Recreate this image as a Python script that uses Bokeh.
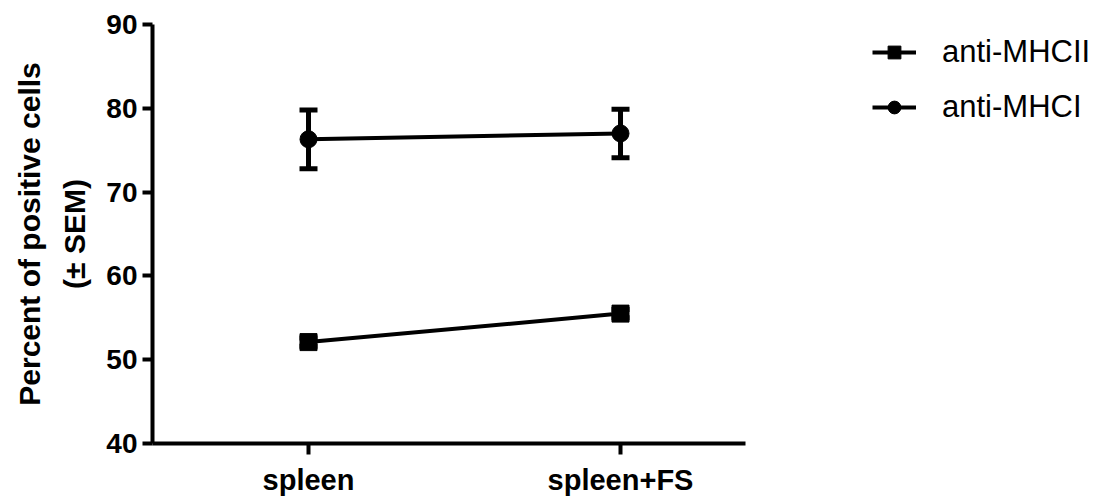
from bokeh.plotting import figure
from bokeh.models import (ColumnDataSource, Range1d, LinearAxis, FixedTicker, Legend,
                          LegendItem, Whisker, TeeHead)
from bokeh.embed import file_html
from bokeh.resources import INLINE

categories = ["spleen", "spleen+FS"]
cat_pos = [0, 1]
mhcii_mean = [52.1, 55.5]
mhcii_sem = [0.5, 0.5]
mhci_mean = [76.3, 77.0]
mhci_sem = [3.5, 2.9]
y_ticks = [40, 50, 60, 70, 80, 90]

FONT = "Liberation Sans"

# frame spans full width to the right; the x axis line is bounded to the data area
p = figure(width=1103, height=498, output_backend="svg", toolbar_location=None,
           x_range=Range1d(-0.5, 2.548), y_range=Range1d(40, 90),
           min_border_left=152, min_border_right=0, min_border_top=24, min_border_bottom=48)
p.outline_line_color = None
p.xgrid.visible = False
p.ygrid.visible = False
p.background_fill_color = "white"
p.border_fill_color = "white"

src2 = ColumnDataSource(dict(x=cat_pos, y=mhcii_mean,
                             lo=[m - s for m, s in zip(mhcii_mean, mhcii_sem)],
                             hi=[m + s for m, s in zip(mhcii_mean, mhcii_sem)]))
src1 = ColumnDataSource(dict(x=cat_pos, y=mhci_mean,
                             lo=[m - s for m, s in zip(mhci_mean, mhci_sem)],
                             hi=[m + s for m, s in zip(mhci_mean, mhci_sem)]))

for src in (src1, src2):
    w = Whisker(source=src, base="x", lower="lo", upper="hi", line_width=5, line_color="black",
                upper_head=TeeHead(size=18, line_width=5, line_color="black"),
                lower_head=TeeHead(size=18, line_width=5, line_color="black"))
    p.add_layout(w)

l2 = p.line("x", "y", source=src2, line_width=4, line_color="black")
s2 = p.scatter("x", "y", source=src2, marker="square", size=17, fill_color="black", line_color="black")
l1 = p.line("x", "y", source=src1, line_width=4, line_color="black")
s1 = p.scatter("x", "y", source=src1, marker="circle", size=17, fill_color="black", line_color="black")

# axes
xa = p.xaxis[0]
xa.bounds = (-0.5, 1.401)
xa.ticker = FixedTicker(ticks=cat_pos)
xa.major_label_overrides = {c: l for c, l in zip(cat_pos, categories)}
xa.minor_tick_line_color = None
xa.axis_line_width = 4
xa.major_tick_line_width = 4
xa.major_tick_out = 11
xa.major_tick_in = 0
xa.major_label_text_font = FONT
xa.major_label_text_font_style = "bold"
xa.major_label_text_font_size = "29px"
xa.major_label_text_color = "black"
xa.major_label_standoff = 9

ya = p.yaxis[0]
ya.ticker = FixedTicker(ticks=y_ticks)
ya.minor_tick_line_color = None
ya.axis_line_width = 4
ya.major_tick_line_width = 4
ya.major_tick_out = 10
ya.major_tick_in = 0
ya.major_label_text_font = FONT
ya.major_label_text_font_style = "bold"
ya.major_label_text_font_size = "28px"
ya.major_label_text_color = "black"
ya.major_label_standoff = 5
ya.axis_label = "(± SEM)"
ya.axis_label_text_font = FONT
ya.axis_label_text_font_style = "bold"
ya.axis_label_text_font_size = "30px"
ya.axis_label_text_color = "black"
ya.axis_label_standoff = 12

ya2 = LinearAxis(ticker=FixedTicker(ticks=[]), axis_line_color=None, major_tick_line_color=None,
                 minor_tick_line_color=None, major_label_text_font_size="0px",
                 major_tick_out=0, major_tick_in=0, major_label_standoff=0,
                 axis_label="Percent of positive cells", axis_label_text_font=FONT,
                 axis_label_text_font_style="bold", axis_label_text_font_size="30px",
                 axis_label_text_color="black", axis_label_standoff=10)
p.add_layout(ya2, "left")

legend = Legend(items=[LegendItem(label="anti-MHCII", renderers=[l2, s2]),
                       LegendItem(label="anti-MHCI", renderers=[l1, s1])],
                location=(720, 318), padding=0, margin=0, border_line_color=None,
                background_fill_alpha=0, glyph_width=44, glyph_height=32, label_height=20,
                label_standoff=26, spacing=19, label_text_font=FONT,
                label_text_font_size="31px", label_text_color="black")
p.add_layout(legend, "center")

open("out.html", "w").write(file_html(p, INLINE))
